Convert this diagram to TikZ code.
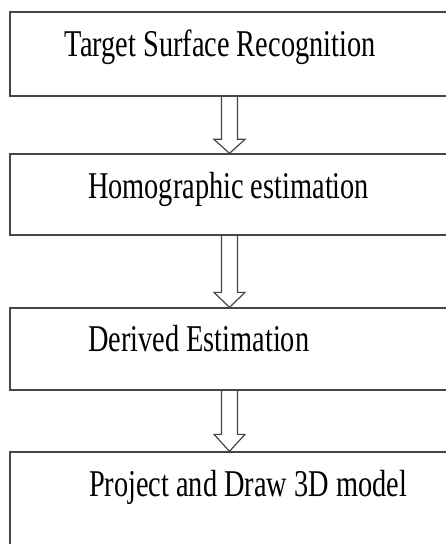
\documentclass[tikz,border=0pt]{standalone}
\usepackage{fontspec}
\setmainfont[FakeStretch=0.75]{Liberation Serif}
\usetikzlibrary{calc}
\definecolor{linegray}{HTML}{454545}
\tikzset{
  boxstyle/.style={draw=linegray, line width=1.3bp, rectangle, inner sep=0pt, minimum width=450bp},
  labelstyle/.style={anchor=base west, inner sep=0pt, font=\fontsize{37.8bp}{45bp}\selectfont, text=black},
  arrowline/.style={draw=linegray, line width=1.2bp, line join=miter}
}
\newcommand\hollowarrow[3]{%
  \draw[arrowline] let \p1=($(#1.south -| ax)$), \p2=($(#2.north -| ax)$) in
    (\x1-8bp,\y1) -- (\x1-8bp,\y2+#3) -- (\x1-15.5bp,\y2+#3) -- (\p2)
    -- (\x1+15.5bp,\y2+#3) -- (\x1+8bp,\y2+#3) -- (\x1+8bp,\y1);}
\begin{document}
\begin{tikzpicture}[x=1bp,y=-1bp]
\useasboundingbox (0,0) rectangle (446,544);
\clip (0,0) rectangle (446,544);
\fill[white] (0,0) rectangle (446,544);
\coordinate (ax) at (229.5,0);
\node[boxstyle, minimum height=84bp] (b1) at (235,54) {};
\node[boxstyle, minimum height=81bp] (b2) at (235,194.5) {};
\node[boxstyle, minimum height=82bp] (b3) at (235,349) {};
\node[boxstyle, minimum height=110bp] (b4) at (235,507) {};
\node[labelstyle] (t1) at (64.5,56.7) {Target Surface Recognition};
\node[labelstyle] (t2) at (87.8,199) {Homographic estimation};
\node[labelstyle] (t3) at (87.8,351.7) {Derived Estimation};
\node[labelstyle] (t4) at (88.8,496.7) {Project and Draw 3D model};
\hollowarrow{b1}{b2}{14bp}
\hollowarrow{b2}{b3}{15bp}
\hollowarrow{b3}{b4}{17bp}
\end{tikzpicture}
\end{document}
